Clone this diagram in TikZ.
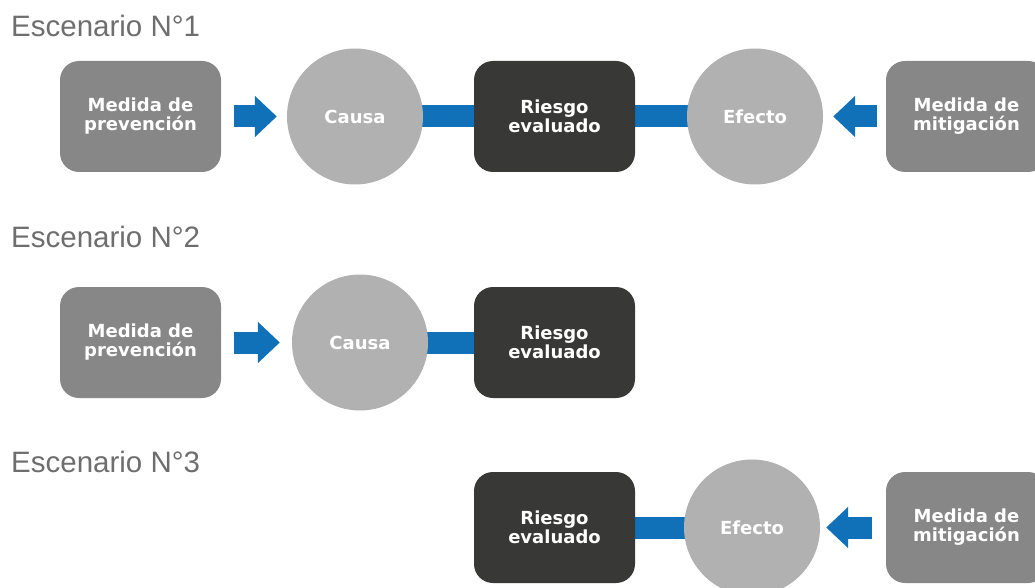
\documentclass[tikz,border=0pt]{standalone}
\usepackage{fontspec}
\setmainfont{Liberation Sans}
\newfontfamily\labfont{DejaVu Sans}
\usetikzlibrary{arrows.meta,backgrounds}
\definecolor{titlegray}{HTML}{6E6E6E}
\definecolor{darkbox}{HTML}{383836}
\definecolor{midbox}{HTML}{878787}
\definecolor{circgray}{HTML}{B1B1B1}
\definecolor{blueconn}{HTML}{1070B8}
\tikzset{
  title/.style={anchor=base west, inner sep=0pt, text=titlegray, font=\fontsize{29.5}{30}\selectfont},
  lab/.style={text=white, align=center, font=\labfont\bfseries\fontsize{18}{19}\selectfont},
  measurebox/.style={lab, fill=midbox, rounded corners=19pt, minimum width=161pt, minimum height=111pt, inner sep=0pt},
  riskbox/.style={lab, fill=darkbox, rounded corners=19pt, minimum width=161pt, minimum height=111pt, inner sep=0pt},
  circ/.style={lab, fill=circgray, circle, minimum size=136pt, inner sep=0pt},
  bar/.style={draw=blueconn, line width=22pt},
  blockarrow/.style={draw=blueconn, line width=22pt, -{Triangle[length=22pt,width=40pt,fill=blueconn]}},
}
\begin{document}
\begin{tikzpicture}[x=1pt,y=-1pt]
\useasboundingbox (0,0) rectangle (1035,588);
% titles
\node[title] (t1) at (11,37) {Escenario N°1};
\node[title] (t2) at (11,247) {Escenario N°2};
\node[title] (t3) at (11,472) {Escenario N°3};
% row 1
\node[measurebox] (p1) at (140.5,116.5) {Medida de\\prevención};
\node[circ] (c1) at (355,116.5) {Causa};
\node[riskbox] (r1) at (554.5,116.5) {Riesgo\\evaluado};
\node[circ] (e1) at (755,116.5) {Efecto};
\node[measurebox] (m1) at (966.5,116.5) {Medida de\\mitigación};
% row 2
\node[measurebox] (p2) at (140.5,342.5) {Medida de\\prevención};
\node[circ] (c2) at (360,342.5) {Causa};
\node[riskbox] (r2) at (554.5,342.5) {Riesgo\\evaluado};
% row 3
\node[riskbox] (r3) at (554.5,527.5) {Riesgo\\evaluado};
\node[circ] (e3) at (752,527.5) {Efecto};
\node[measurebox] (m3) at (966.5,527.5) {Medida de\\mitigación};
% connectors
\begin{scope}[on background layer]
\draw[bar] (c1.center) -- (r1.center);
\draw[bar] (r1.center) -- (e1.center);
\draw[bar] (c2.center) -- (r2.center);
\draw[bar] (r3.center) -- (e3.center);
\end{scope}
\draw[blockarrow] ([xshift=13pt]p1.east) -- ([xshift=-10pt]c1.west);
\draw[blockarrow] ([xshift=-9pt]m1.west) -- ([xshift=10pt]e1.east);
\draw[blockarrow] ([xshift=13pt]p2.east) -- ([xshift=-12pt]c2.west);
\draw[blockarrow] ([xshift=-14pt]m3.west) -- ([xshift=6pt]e3.east);
\end{tikzpicture}
\end{document}
